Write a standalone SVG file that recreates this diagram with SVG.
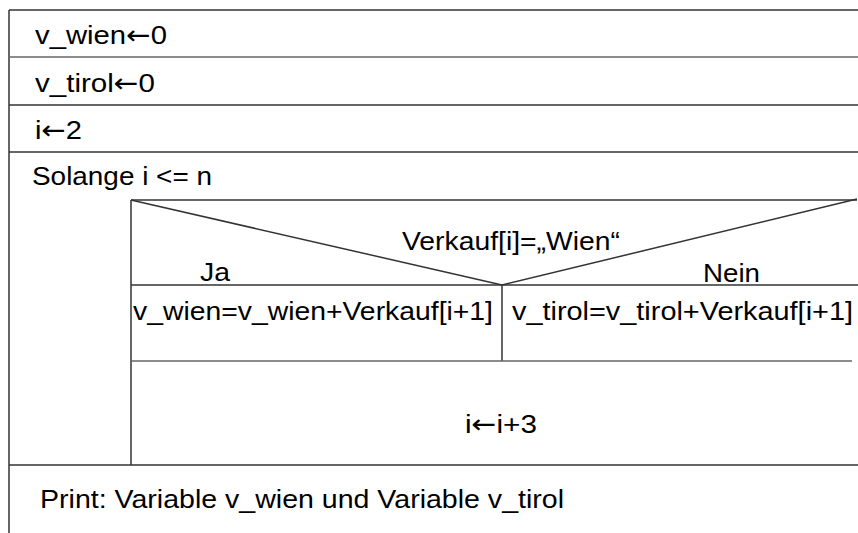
<svg xmlns="http://www.w3.org/2000/svg" width="858" height="533" viewBox="0 0 858 533">
<style>
.ln{stroke:#333;stroke-width:1.5;fill:none}
.lg{stroke:#666;stroke-width:1.5;fill:none}
text{font-family:"Liberation Sans",Arial,"DejaVu Sans",sans-serif;font-size:26px;fill:#000}
.ar{font-family:"DejaVu Sans",sans-serif}
</style>
<rect x="0" y="0" width="858" height="533" fill="#fff"/>
<g id="connectors">
<line class="ln" x1="9" y1="10" x2="9" y2="533"/>
<line class="ln" x1="9" y1="10" x2="858" y2="10"/>
<line class="lg" x1="9" y1="57" x2="858" y2="57"/>
<line class="ln" x1="9" y1="105" x2="858" y2="105"/>
<line class="ln" x1="9" y1="152" x2="858" y2="152"/>
<line class="ln" x1="131" y1="200" x2="131" y2="465"/>
<line class="ln" x1="131" y1="200" x2="857" y2="200"/>
<line class="ln" x1="131" y1="200" x2="502" y2="285"/>
<line class="ln" x1="502" y1="285" x2="857" y2="199"/>
<line class="ln" x1="131" y1="285" x2="858" y2="285"/>
<line class="ln" x1="502" y1="285" x2="502" y2="361"/>
<line class="lg" x1="131" y1="361" x2="852" y2="361"/>
<line class="ln" x1="9" y1="465" x2="858" y2="465"/>
</g>
<g id="n_vwien"><text x="35" y="44" textLength="132" lengthAdjust="spacingAndGlyphs">v_wien<tspan class="ar">←</tspan>0</text></g>
<g id="n_vtirol"><text x="35" y="92" textLength="120" lengthAdjust="spacingAndGlyphs">v_tirol<tspan class="ar">←</tspan>0</text></g>
<g id="n_i"><text x="35" y="139" textLength="47" lengthAdjust="spacingAndGlyphs">i<tspan class="ar">←</tspan>2</text></g>
<g id="n_loop"><text x="32" y="185" textLength="180" lengthAdjust="spacingAndGlyphs">Solange i &lt;= n</text></g>
<g id="n_cond">
<text x="402" y="250" textLength="218" lengthAdjust="spacingAndGlyphs">Verkauf[i]=„Wien“</text>
<text x="200" y="281" textLength="30" lengthAdjust="spacingAndGlyphs">Ja</text>
<text x="703" y="282" textLength="57" lengthAdjust="spacingAndGlyphs">Nein</text>
</g>
<g id="n_ja"><text x="133" y="320" textLength="360" lengthAdjust="spacingAndGlyphs">v_wien=v_wien+Verkauf[i+1]</text></g>
<g id="n_nein"><text x="512" y="320" textLength="341" lengthAdjust="spacingAndGlyphs">v_tirol=v_tirol+Verkauf[i+1]</text></g>
<g id="n_inc"><text x="465" y="433" textLength="72" lengthAdjust="spacingAndGlyphs">i<tspan class="ar">←</tspan>i+3</text></g>
<g id="n_print"><text x="40" y="508" textLength="524" lengthAdjust="spacingAndGlyphs">Print: Variable v_wien und Variable v_tirol</text></g>
</svg>
